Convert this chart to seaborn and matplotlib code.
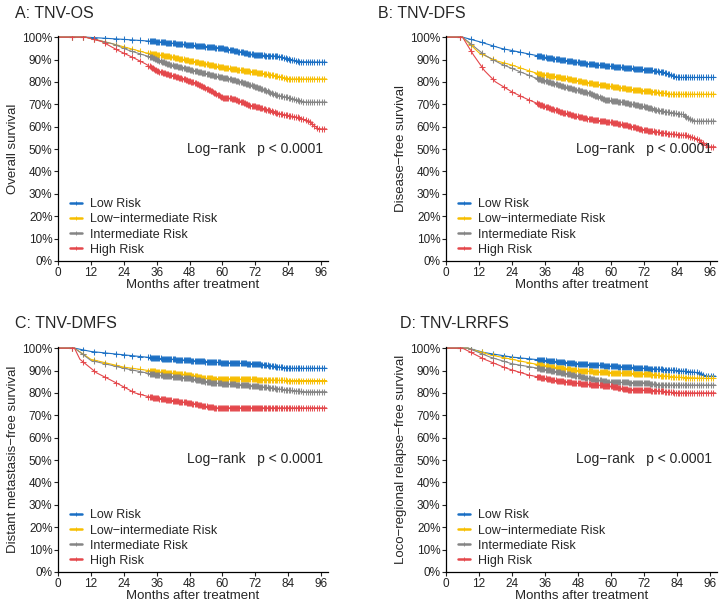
import numpy as np
import pandas as pd
import matplotlib
matplotlib.use("Agg")
import matplotlib.pyplot as plt
from matplotlib.lines import Line2D
from matplotlib.ticker import PercentFormatter
import seaborn as sns

sns.set_style("ticks")
plt.rcParams['font.family'] = ['Liberation Sans', 'DejaVu Sans']

# risk groups and colours
groups = ["Low Risk", "Low\u2212intermediate Risk", "Intermediate Risk", "High Risk"]
colors = ["#1a6fc4", "#f7be00", "#858585", "#e4474b"]

# survival curves (months, survival %)
os_low_t = [0, 10, 24, 36, 48, 60, 66, 72, 80, 88, 98]
os_low_s = [100, 100, 99, 98, 96.5, 95, 93.5, 92, 91.5, 89, 88.8]
os_lint_t = [0, 10, 20, 26, 32, 40, 50, 60, 68, 76, 82, 84, 98]
os_lint_s = [100, 100, 97, 95, 93, 91.5, 89, 86.5, 85, 83.5, 82, 81.3, 81.3]
os_int_t = [0, 10, 20, 26, 30, 34, 40, 48, 58, 62, 68, 74, 80, 84, 90, 98]
os_int_s = [100, 100, 97, 94, 92.5, 91, 88, 85.5, 82.5, 81.5, 79.5, 77, 74, 73, 71, 71]
os_high_t = [0, 10, 16, 22, 28, 32, 36, 44, 50, 56, 60, 64, 70, 74, 80, 84, 88, 92, 95, 98]
os_high_s = [100, 100, 98, 94, 90.5, 88, 85, 82, 79.5, 76, 73, 72.5, 69.5, 68.5, 66, 65, 64, 62, 59, 59]

dfs_low_t = [0, 6, 12, 20, 28, 36, 44, 52, 60, 68, 76, 80, 84, 98]
dfs_low_s = [100, 100, 98, 95, 93, 91, 89.5, 88, 87, 86, 85, 84, 82, 82]
dfs_lint_t = [0, 6, 12, 18, 24, 30, 34, 44, 52, 60, 68, 76, 82, 98]
dfs_lint_s = [100, 100, 93, 89.5, 87.5, 85, 83.5, 81.5, 79.5, 78, 76.5, 75.5, 74.5, 74.5]
dfs_int_t = [0, 6, 14, 20, 26, 32, 36, 44, 52, 58, 64, 72, 78, 86, 90, 98]
dfs_int_s = [100, 100, 92, 88, 85, 82, 80.5, 77.5, 75, 72, 71, 69, 67, 65.5, 62.5, 62.5]
dfs_high_t = [0, 6, 10, 14, 18, 24, 30, 36, 42, 48, 54, 60, 66, 72, 80, 88, 92, 95, 98]
dfs_high_s = [100, 100, 92, 85, 80, 75.5, 72, 69, 66.5, 64.5, 63, 62, 60.5, 58.5, 57, 56, 54, 51, 51]

dmfs_low_t = [0, 6, 12, 24, 36, 48, 60, 72, 78, 84, 98]
dmfs_low_s = [100, 100, 98.5, 97, 95.5, 94.5, 93.5, 93, 92, 91, 91]
dmfs_lint_t = [0, 6, 12, 24, 36, 48, 54, 72, 84, 98]
dmfs_lint_s = [100, 100, 95, 91.5, 89.5, 88, 86.5, 86, 85.5, 85.5]
dmfs_int_t = [0, 6, 12, 24, 36, 48, 56, 68, 76, 82, 90, 98]
dmfs_int_s = [100, 100, 94.5, 91, 88, 86.5, 84.5, 83.5, 82.5, 81.5, 80.5, 80.5]
dmfs_high_t = [0, 6, 8, 14, 22, 28, 34, 42, 48, 54, 58, 98]
dmfs_high_s = [100, 100, 95, 89, 84, 80, 78, 76.5, 75.5, 74, 73.3, 73.3]

lrrfs_low_t = [0, 8, 14, 24, 36, 48, 60, 72, 84, 92, 94, 98]
lrrfs_low_s = [100, 100, 98, 96, 94.5, 93, 92, 91, 90, 89, 87.5, 87.5]
lrrfs_lint_t = [0, 8, 16, 24, 36, 48, 60, 72, 84, 94, 98]
lrrfs_lint_s = [100, 100, 97, 95, 92, 90, 89, 88.5, 87, 86.5, 86.5]
lrrfs_int_t = [0, 8, 16, 24, 36, 46, 54, 60, 72, 78, 98]
lrrfs_int_s = [100, 100, 96, 93, 90.5, 88, 86, 84.8, 84.5, 83.5, 83.5]
lrrfs_high_t = [0, 6, 14, 22, 30, 40, 50, 60, 66, 76, 84, 98]
lrrfs_high_s = [100, 100, 95, 91, 88, 85.5, 84, 83, 81.5, 81, 80, 80]

# censoring times: sparse before ~33 months, dense afterwards
censor_early = [5, 9, 13, 17, 21, 24, 27, 30]
censor_late = [33, 33.4, 33.8, 34.2, 34.6, 35, 35.4, 35.8, 36.2, 36.6, 37, 37.4, 37.8, 38.2,
               38.6, 39, 39.4, 39.8, 40.2, 40.6, 41, 41.4, 41.8, 42.2, 42.6, 43, 43.4, 43.8,
               44.2, 44.6, 45, 45.4, 45.8, 46.2, 46.6, 47, 47.4, 47.8, 48.2, 48.6, 49, 49.4,
               49.8, 50.2, 50.6, 51, 51.4, 51.8, 52.2, 52.6, 53, 53.4, 53.8, 54.2, 54.6, 55,
               55.4, 55.8, 56.2, 56.6, 57, 57.4, 57.8, 58.2, 58.6, 59, 59.4, 59.8, 60.2, 60.6,
               61, 61.4, 61.8, 62.2, 62.6, 63, 63.4, 63.8, 64.2, 64.6, 65, 65.4, 65.8, 66.2,
               66.6, 67, 67.4, 67.8, 68.2, 68.6, 69, 69.4, 69.8, 70.2, 70.6, 71, 71.4, 71.8,
               72.2, 72.6, 73, 73.4, 73.8, 74.2, 74.6, 75, 75.5, 76, 76.5, 77, 77.5, 78, 78.5,
               79, 79.5, 80, 80.6, 81.2, 81.8, 82.4, 83, 83.6, 84.2, 84.8, 85.4, 86, 86.7,
               87.4, 88.1, 88.8, 89.5, 90.3, 91.1, 91.9, 92.7, 93.5, 94.4, 95.3, 96.2, 97.1]

panels = [
    ("A: TNV-OS", "Overall survival",
     [(os_low_t, os_low_s), (os_lint_t, os_lint_s), (os_int_t, os_int_s), (os_high_t, os_high_s)]),
    ("B: TNV-DFS", "Disease\u2212free survival",
     [(dfs_low_t, dfs_low_s), (dfs_lint_t, dfs_lint_s), (dfs_int_t, dfs_int_s), (dfs_high_t, dfs_high_s)]),
    ("C: TNV-DMFS", "Distant metastasis\u2212free survival",
     [(dmfs_low_t, dmfs_low_s), (dmfs_lint_t, dmfs_lint_s), (dmfs_int_t, dmfs_int_s), (dmfs_high_t, dmfs_high_s)]),
    ("D: TNV-LRRFS", "Loco\u2212regional relapse\u2212free survival",
     [(lrrfs_low_t, lrrfs_low_s), (lrrfs_lint_t, lrrfs_lint_s), (lrrfs_int_t, lrrfs_int_s), (lrrfs_high_t, lrrfs_high_s)]),
]

W, H = 727, 606
fig = plt.figure(figsize=(W / 100, H / 100), dpi=100)

# axes boxes in pixels: left, top, right, bottom
boxes = [(58, 36, 328, 261), (446, 36, 717, 261), (58, 347, 328, 572), (446, 347, 717, 572)]
title_pos = [(15, 13), (378, 13), (15, 324), (400, 324)]

for (title, ylab, curves), (l, t, r, b), (tx, ty) in zip(panels, boxes, title_pos):
    ax = fig.add_axes([l / W, 1 - b / H, (r - l) / W, (b - t) / H])
    rows = []
    for g, (tt, ss) in zip(groups, curves):
        for a, s in zip(tt, ss):
            rows.append({"month": a, "surv": s, "group": g})
    df = pd.DataFrame(rows)
    sns.lineplot(data=df, x="month", y="surv", hue="group", hue_order=groups,
                 palette=colors, linewidth=0.8, legend=False, ax=ax, sort=False)
    for g, c, (tt, ss) in zip(groups, colors, curves):
        ct = [m for m in censor_early + censor_late if m <= tt[-1]]
        cs = np.interp(ct, tt, ss)
        ax.plot(ct, cs, linestyle="none", marker="+", markersize=4.2,
                markeredgewidth=0.75, color=c, alpha=0.95)

    ax.set_xlim(0, 98.5)
    ax.set_ylim(0, 100.5)
    ax.set_xticks([0, 12, 24, 36, 48, 60, 72, 84, 96])
    ax.set_yticks(range(0, 101, 10))
    ax.yaxis.set_major_formatter(PercentFormatter(decimals=0))
    ax.tick_params(labelsize=8.5, length=3, width=0.8, pad=1, colors="#222222")
    for sp in ["left", "bottom"]:
        ax.spines[sp].set_linewidth(0.9)
        ax.spines[sp].set_color("black")
    sns.despine(ax=ax)
    ax.set_xlabel("Months after treatment", fontsize=9.5, labelpad=0)
    ax.set_ylabel(ylab, fontsize=9.5, labelpad=2)

    ax.text(0.98, 0.5, "Log\u2212rank   p < 0.0001", transform=ax.transAxes,
            ha="right", va="center", fontsize=10)

    handles = [Line2D([], [], color=c, linewidth=1.8, marker="+", markersize=3.5,
                      markeredgewidth=0.6) for c in colors]
    ax.legend(handles, groups, loc="lower left", bbox_to_anchor=(0.015, -0.01),
              frameon=False, fontsize=9, handlelength=1.0, handletextpad=0.6,
              labelspacing=0.25, borderaxespad=0.2)

    fig.text(tx / W, 1 - ty / H, title, fontsize=11.5, ha="left", va="center")

fig.savefig("out.png", dpi=100)
